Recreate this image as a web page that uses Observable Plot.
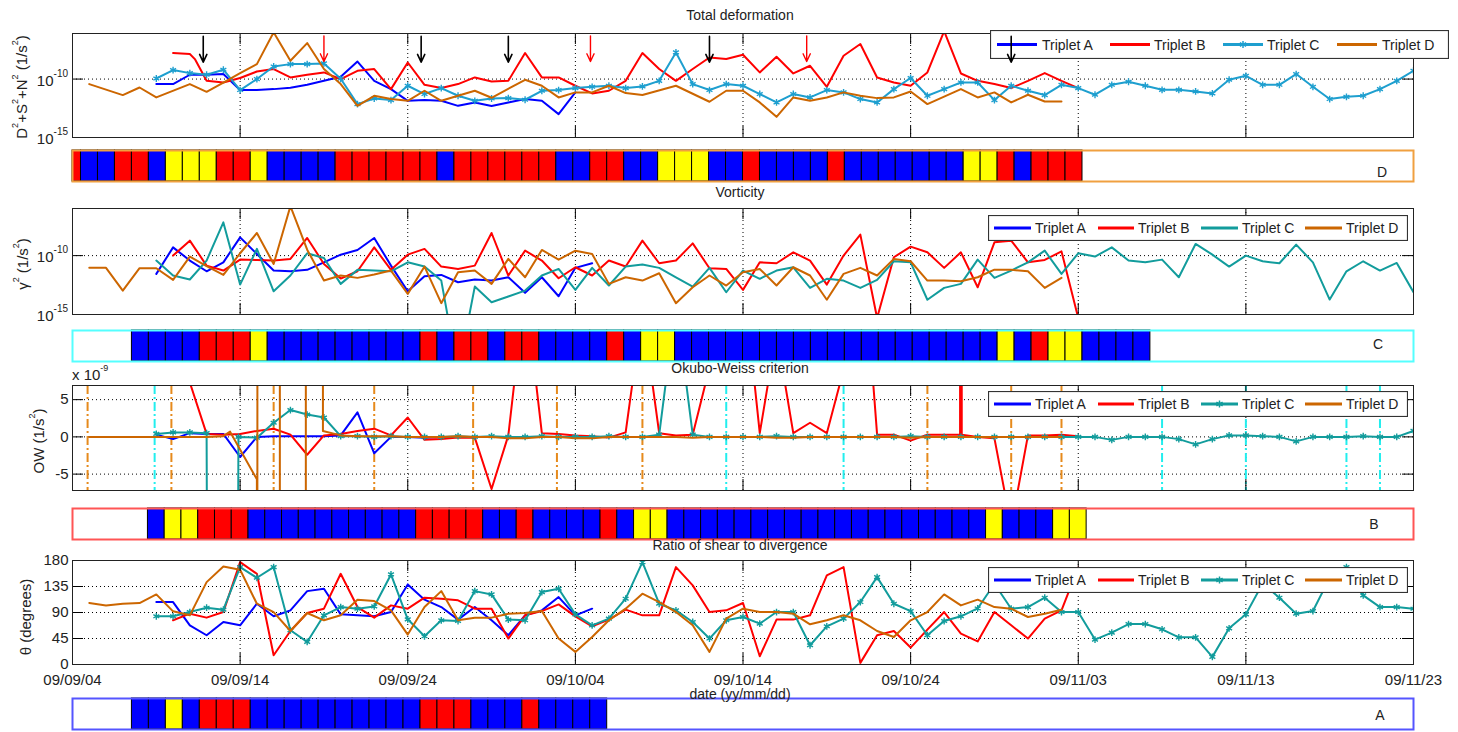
<!DOCTYPE html>
<html><head><meta charset="utf-8"><title>Triplets</title>
<script src="https://cdn.jsdelivr.net/npm/d3@7"></script>
<script src="https://cdn.jsdelivr.net/npm/@observablehq/plot@0.6"></script>
<style>
html,body{margin:0;padding:0;background:#fff;overflow:hidden}
#root{position:relative;width:1458px;height:732px;overflow:hidden;background:#fff;font-family:"Liberation Sans",Arial,Helvetica,sans-serif;color:#222}
.lbl{position:absolute;white-space:nowrap;font-size:14px;line-height:1;z-index:6}
.lbl sup{font-size:9px;vertical-align:top;position:relative;top:-3px}
.tk sup{font-size:10px;top:-4px}
</style></head><body><div id="root"></div><script>
// ---------------- axis ticks ----------------
const X_TICKS = [0,10,20,30,40,50,60,70,80];
const X_LABELS = ["09/09/04","09/09/14","09/09/24","09/10/04","09/10/14","09/10/24","09/11/03","09/11/13","09/11/23"];
const SERIES_NAMES = ["Triplet A","Triplet B","Triplet C","Triplet D"];

// ---------------- Total deformation (log10 of 1/s^2), [day, exponent] ----------------
const deformA = [[5,-10.43],[6,-10.43],[7,-9.63],[8,-9.63],[9,-9.57],[10,-10.94],[11,-10.94],[12,-10.86],[13,-10.74],[14,-10.49],[15,-10.15],[16,-9.8],[17,-8.5],[18,-10.15],[19,-10.86],[20,-11.86],[21,-11.8],[22,-11.86],[23,-12.29],[24,-12.0],[25,-12.31],[26,-12.0],[27,-11.71],[28,-11.86],[29,-13.0],[30,-11.14]];
const deformB = [[6,-7.77],[7,-7.86],[7.3,-8.29],[8,-10.15],[9,-10.29],[10,-9.91],[11,-9.35],[12,-9.14],[13,-9.86],[14,-9.63],[15,-9.43],[16,-10.0],[17,-9.29],[18,-9.14],[19,-10.86],[20,-8.58],[21,-10.49],[22,-10.77],[23,-10.43],[24,-9.86],[25,-10.2],[26,-10.15],[27,-7.77],[28,-9.86],[29,-9.86],[30,-10.57],[31,-11.23],[32,-11.0],[33,-10.15],[34,-7.77],[35,-9.14],[36,-10.15],[37,-9.14],[38,-8.15],[39,-8.29],[40,-7.92],[41,-9.43],[42,-8.09],[43,-9.52],[44,-8.86],[45,-10.66],[46,-8.0],[47,-7.0],[48,-9.86],[49,-10.29],[50,-10.57],[51,-9.43],[52,-5.9],[53,-9.52],[54,-10.15],[55,-10.43],[56,-10.77],[57,-10.15],[58,-9.49],[59,-10.15],[60,-10.77]];
const deformC = [[5,-9.95],[6,-9.23],[7,-9.49],[8,-9.63],[9,-9.2],[10,-10.94],[11,-10.0],[12,-8.92],[13,-8.72],[14,-8.72],[15,-8.66],[16,-9.97],[17,-12.14],[18,-11.66],[19,-11.8],[20,-10.57],[21,-11.28],[22,-10.77],[23,-11.43],[24,-11.86],[25,-11.66],[26,-11.63],[27,-11.77],[28,-11.0],[29,-10.94],[30,-10.77],[31,-10.66],[32,-10.57],[33,-10.77],[34,-10.63],[35,-10.15],[36,-7.72],[37,-10.43],[38,-10.94],[39,-10.43],[40,-10.57],[41,-11.28],[42,-12.0],[43,-11.28],[44,-11.57],[45,-10.94],[46,-11.14],[47,-11.71],[48,-12.0],[49,-10.86],[50,-9.91],[51,-11.43],[52,-10.86],[53,-10.29],[54,-10.29],[55,-11.8],[56,-10.57],[57,-11.0],[58,-11.37],[59,-10.49],[60,-10.77],[61,-11.34],[62,-10.49],[63,-10.23],[64,-10.57],[65,-10.92],[66,-10.92],[67,-11.06],[68,-11.23],[69,-10.06],[70,-9.72],[71,-10.49],[72,-10.49],[73,-9.57],[74,-10.66],[75,-11.71],[76,-11.52],[77,-11.43],[78,-10.86],[79,-10.15],[80,-9.29]];
const deformD = [[1,-10.43],[3,-11.37],[4,-10.72],[5,-11.57],[7,-10.43],[8,-11.09],[9,-10.3],[10,-9.5],[11,-8.72],[12,-6.0],[13,-8.43],[14,-6.92],[15,-9.14],[16,-10.43],[17,-12.29],[18,-11.43],[19,-11.71],[20,-11.86],[21,-11.0],[22,-11.86],[24,-11.0],[25,-11.6],[27,-10.06],[28,-10.57],[29,-11.57],[30,-11.14],[31,-11.14],[32,-10.57],[33,-11.2],[34,-11.37],[36,-10.57],[38,-11.94],[39,-11.0],[40,-11.0],[41,-12.0],[42,-13.23],[43,-11.57],[44,-11.86],[45,-11.57],[46,-11.14],[47,-11.43],[48,-11.63],[49,-11.57],[50,-11.06],[51,-12.14],[53,-10.86],[54,-11.57],[55,-11.14],[56,-12.0],[57,-11.34],[58,-11.92],[59,-11.92]];
const arrowBlackDays = [7.8, 20.8, 26.0, 38.0, 56.0];
const arrowRedDays = [15.0, 30.9, 43.8];

// ---------------- Vorticity (log10 of 1/s^2) ----------------
const vortA = [[5,-11.55],[6,-9.3],[7,-10.42],[8,-11.33],[9,-10.57],[10,-8.45],[11,-9.86],[12,-11.27],[13,-11.33],[14,-11.21],[15,-10.57],[16,-9.92],[17,-9.52],[18,-8.5],[19,-10.85],[20,-13.03],[21,-11.75],[22,-11.64],[23,-12.26],[24,-12.03],[25,-12.12],[26,-11.84],[27,-13.16],[28,-11.84],[29,-13.45],[30,-11.04],[31,-10.65]];
const vortB = [[6,-10.0],[7,-8.73],[8,-10.85],[9,-11.27],[10,-10.34],[11,-10.37],[12,-10.42],[13,-10.28],[14,-8.5],[15,-10.71],[16,-11.95],[17,-11.33],[18,-9.3],[19,-11.21],[20,-9.92],[21,-9.43],[22,-10.93],[23,-11.13],[24,-10.85],[25,-8.08],[26,-11.69],[27,-9.58],[28,-10.42],[29,-11.92],[30,-10.99],[31,-11.69],[32,-10.42],[33,-10.93],[34,-8.73],[35,-10.65],[36,-10.42],[37,-8.96],[38,-11.07],[39,-11.13],[40,-12.91],[41,-10.57],[42,-10.65],[43,-9.72],[44,-10.42],[45,-12.46],[46,-10.0],[47,-8.22],[48,-15.3],[49,-10.14],[50,-9.24],[51,-9.72],[52,-11.04],[53,-9.72],[54,-12.69],[55,-8.87],[56,-8.73],[57,-10.57],[58,-10.37],[59,-9.64],[60,-15.3]];
const vortC = [[5,-10.42],[6,-11.69],[7,-12.03],[8,-10.42],[9,-7.18],[10,-12.46],[11,-9.43],[12,-13.03],[13,-11.69],[14,-9.8],[15,-10.2],[16,-12.4],[17,-11.21],[18,-11.27],[19,-11.33],[20,-10.57],[21,-10.93],[22,-12.12],[23,-20],[24,-12.63],[25,-13.96],[26,-13.47],[27,-12.97],[28,-11.69],[29,-11.13],[30,-12.91],[31,-11.04],[32,-12.54],[33,-10.93],[34,-10.76],[35,-11.04],[36,-11.84],[37,-12.63],[38,-11.04],[39,-13.11],[40,-11.27],[41,-11.97],[42,-11.27],[43,-10.99],[44,-12.74],[45,-11.97],[46,-12.12],[47,-12.74],[48,-12.06],[49,-10.48],[50,-10.57],[51,-13.75],[52,-12.74],[53,-12.4],[54,-10.34],[55,-11.89],[56,-11.27],[57,-10.57],[58,-9.58],[59,-11.55],[60,-9.8],[61,-10.08],[62,-9.3],[63,-10.42],[64,-10.57],[65,-10.34],[66,-11.84],[67,-9.01],[68,-9.92],[69,-10.93],[70,-10.0],[71,-10.48],[72,-10.65],[73,-9.07],[74,-10.57],[75,-13.73],[76,-11.33],[77,-10.48],[78,-11.27],[79,-10.62],[80,-13.11]];
const vortD = [[1,-11.04],[2,-11.04],[3,-12.97],[4,-11.07],[5,-11.07],[6,-12.06],[7,-10.08],[8,-10.9],[9,-11.64],[10,-9.8],[11,-8.08],[12,-10.71],[13,-5.8],[14,-9.5],[15,-12.12],[16,-11.69],[17,-11.89],[18,-11.6],[19,-11.27],[20,-13.25],[21,-10.93],[22,-14.04],[23,-11.41],[24,-11.27],[25,-12.4],[26,-10.28],[27,-11.84],[28,-9.52],[29,-10.34],[30,-9.58],[31,-9.86],[32,-12.4],[33,-11.84],[34,-12.12],[35,-11.5],[36,-14.04],[37,-12.69],[38,-11.69],[39,-12.54],[40,-11.41],[41,-11.13],[42,-12.54],[43,-10.99],[44,-11.69],[45,-13.75],[46,-11.55],[47,-11.04],[48,-11.69],[49,-10.28],[50,-10.48],[51,-12.12],[52,-12.12],[53,-12.18],[54,-11.84],[55,-11.19],[56,-11.21],[57,-11.33],[58,-12.74],[59,-11.89]];

// ---------------- Okubo-Weiss (x 1e-9 1/s^2) ----------------
const owA = [[5,0.3],[6,-0.3],[7,0.5],[8,0.4],[9,0.4],[10,-2.7],[11,0.0],[12,0.1],[13,0.1],[14,0.1],[15,0.1],[16,0.2],[17,3.3],[18,-2.2],[19,0.0],[20,0.0],[21,-0.1],[22,0.0],[23,0.0],[24,0.0],[25,0.0],[26,0.0],[27,0.0],[28,0.0],[29,0.0],[30,0.0],[31,0.0]];
const owB = [[6,30],[7,7.3],[8,0.4],[9,0.3],[10,0.4],[11,0.8],[12,1.1],[13,0.3],[14,-2.4],[15,0.2],[16,0.4],[17,0.8],[18,1.1],[19,0.2],[20,2.6],[21,-0.4],[22,-0.3],[23,-0.1],[24,-0.1],[25,-7.0],[26,0.2],[27,20],[28,0.5],[29,0.4],[30,0.2],[31,0.1],[32,-0.1],[33,0.6],[34,17],[35,0.5],[36,0.2],[37,0.3],[38,9.3],[39,20],[40,22],[41,0.5],[42,14],[43,0.5],[44,1.9],[45,0.5],[46,9],[47,30],[48,0.3],[49,0.3],[50,-0.5],[51,0.3],[52,0.3],[52.95,0.3],[53,500],[53.05,0.3],[54,0],[55,-0.2],[56,-12],[57,0.2],[58,0.2],[59,0.3],[60,0.1]];
const owC = [[5,0.4],[6,0.6],[7,0.6],[8,0.5],[8.05,-30],[9.85,-30],[9.9,0.0],[11,-0.1],[12,1.9],[13,3.6],[14,3.0],[15,2.6],[16,0.1],[17,0.1],[18,0.0],[19,0.1],[20,0.0],[21,0.0],[22,0.0],[23,0.1],[24,0.0],[25,0.1],[26,0.0],[27,0.0],[28,0.1],[29,0.0],[30,0.0],[31,0.0],[32,0.1],[33,0.0],[34,0.0],[35,0.3],[36,18],[37,0.3],[38,0.0],[39,0.0],[40,0.0],[41,0.0],[42,0.1],[43,0.0],[44,0.0],[45,0.0],[46,0.0],[47,0.0],[48,0.0],[49,0.0],[50,0.1],[51,0.0],[52,0.0],[53,0.0],[54,0.0],[55,0.0],[56,0.0],[57,0.0],[58,0.0],[59,0.0],[60,0.0],[61,0.0],[62,-0.4],[63,0.0],[64,0.0],[65,0.0],[66,-0.3],[67,-1.0],[68,-0.3],[69,0.2],[70,0.2],[71,0.1],[72,0.0],[73,-0.6],[74,0.0],[75,0.0],[76,0.0],[77,0.1],[78,0.0],[79,0.0],[80,0.8]];
const owD = [[1,0],[2,0],[3,0],[4,0],[5,0],[6,0],[7,0],[8,0],[9,0.1],[9.4,0.7],[11,-5.7],[11.02,-1000],[11.04,1000],[12.36,1000],[12.38,-1000],[13.91,-1000],[13.93,1000],[14.92,1000],[14.94,0.8],[16,0.2],[17,0.1],[18,0.1],[19,0.1],[20,0.0],[21,0.0],[22,0.0],[23,0.1],[24,0.0],[25,0.0],[26,-0.2],[27,-0.2],[28,0.0],[29,0.0],[30,-0.2],[31,-0.2],[32,0.0],[33,0.0],[34,0.0],[35,0.0],[36,0.0],[37,-0.1],[38,0.0],[39,0.0],[40,0.0],[41,0.0],[42,-0.1],[43,-0.1],[44,0.0],[45,0.0],[46,0.0],[47,0.0],[48,0.0],[49,0.0],[50,-0.1],[51,0.0],[52,0.0],[53,0.0],[54,0.0],[55,0.0],[56,0.0],[57,0.0],[58,0.0],[59,0.0]];
const owOrangeRuleDays = [0.9, 5.9, 12.0, 18.0, 23.9, 28.9, 34.0, 51.0, 56.0, 59.0];
const owCyanRuleDays = [4.9, 39.0, 46.0, 65.0, 70.0, 76.0, 78.0];

// ---------------- Ratio of shear to divergence (degrees) ----------------
const thetaA = [[5,108.1],[6,108.1],[7,67.8],[8,50.6],[9,73.6],[10,67.8],[11,105.2],[12,83.4],[13,93.7],[14,127.0],[15,131.1],[16,86.8],[17,85.1],[18,83.4],[19,90.8],[20,138.6],[21,112.2],[22,99.4],[23,77.7],[24,99.4],[25,76.5],[26,50.6],[27,85.1],[28,93.7],[29,116.7],[30,85.1],[31,96.6]];
const thetaB = [[6,76.5],[7,88.0],[8,81.1],[9,90.8],[10,177.1],[11,157.0],[12,16.1],[13,58.0],[14,89.1],[15,96.6],[16,157.0],[17,99.4],[18,81.1],[19,102.3],[20,96.6],[21,115.6],[22,113.9],[23,111.0],[24,96.6],[25,96.6],[26,44.9],[27,85.1],[28,92.5],[29,104.0],[30,83.4],[31,66.1],[32,77.7],[33,94.9],[34,85.1],[35,85.1],[36,168.5],[37,136.9],[38,90.8],[39,93.7],[40,106.4],[41,14.3],[42,77.7],[43,77.7],[44,85.1],[45,154.1],[46,168.5],[47,2.8],[48,50.6],[49,58.0],[50,29.3],[51,60.4],[52,90.8],[53,53.5],[54,40.0],[55,90.8],[56,67.8],[57,44.9],[58,79.4],[59,93.7],[60,168]];
const thetaC = [[5,83.4],[6,83.4],[7,90.8],[8,98.3],[9,94.9],[10,168.5],[11,150.1],[12,168.5],[13,59.2],[14,39.1],[15,85.1],[16,99.4],[17,96.6],[18,100.5],[19,155.9],[20,78.2],[21,48.8],[22,76.5],[23,75.3],[24,127.0],[25,121.3],[26,77.7],[27,76.5],[28,125.3],[29,131.1],[30,86.8],[31,67.8],[32,79.4],[33,113.9],[34,177.1],[35,105.2],[36,93.7],[37,73.6],[38,44.9],[39,76.5],[40,82.2],[41,70.7],[42,90.8],[43,90.8],[44,33.3],[45,66.1],[46,79.4],[47,108.1],[48,151.2],[49,105.2],[50,92.5],[51,50.6],[52,75.3],[53,83.4],[54,97],[55,139.8],[56,96.6],[57,99.4],[58,115.6],[59,90.8],[60,90.8],[61,43.1],[62,55.1],[63,70.0],[64,70.0],[65,60.9],[66,47.0],[67,47.0],[68,13.2],[69,62.6],[70,86.8],[71,140],[72,115.6],[73,88.0],[74,92.5],[75,150],[76,168.5],[77,119.6],[78,99.4],[79,99.4],[80,96.6]];
const thetaD = [[1,106.4],[2,102.3],[3,105.2],[4,106.4],[5,121.3],[6,92.0],[7,85.1],[8,142.6],[9,169.7],[10,164],[11,105.2],[12,90.8],[13,58.0],[14,89.1],[15,76.5],[16,85.1],[17,112.2],[18,109.8],[19,93.7],[20,51.8],[21,99.4],[22,127.0],[23,76.5],[24,81.1],[25,81.1],[26,88.0],[27,89.1],[28,92.5],[29,44.9],[30,21.8],[31,47.6],[32,76.5],[33,96.6],[34,122.5],[35,108.1],[36,90.8],[37,67.8],[38,21.8],[39,79.4],[40,96.6],[41,90.8],[42,90.8],[43,88.0],[44,69.6],[45,76.5],[46,85.1],[47,76.5],[48,58.0],[49,47.6],[50,76.5],[51,90.8],[52,121.3],[53,102.3],[54,112.2],[55,99.4],[56,96.6],[57,82.2],[58,88.0],[59,94.9]];

// ---------------- daily classification strips (B=blue, R=red, Y=yellow, .=none) ----------------
const stripD = "RBBRRBYYYRRYBBBBRRRRRRBRRRRRRBBRRBBYYYBBRBBBBRBBBBBBBYYRBRRR";
const stripC = "....BBBBRRRYBBBBBBBBBRBRRBRRBBBBRBYYBBBBBBBBBBBBBBBBBBBYBRYYBBBB";
const stripB = ".....BYYRRRBBBBBBBBBBRRRRBBRBBBBRBYYBBBBBBBBBBBBBBBBBBBYBBBYY";
const stripA = "....BBYBRRRBBBBBBBBBBRRRBBBRBBBB";

// ---------------- styling ----------------
const COL = {A:"#0000ff", B:"#ff0000", C1:"#1e9fcf", C:"#129c9c", D:"#cc6600"};
const CELL = {B:"#0000ff", R:"#ff0000", Y:"#ffff00"};
const FONT = '"Liberation Sans", Arial, Helvetica, sans-serif';
const ML = 72, MR = 45, W = 1458, FW = W - ML - MR;
const root = document.getElementById("root");

function place(node, left, top, z) {
  node.style.position = "absolute"; node.style.left = left + "px"; node.style.top = top + "px";
  node.style.zIndex = z || 1; root.appendChild(node);
}
function label(html, x, y, opts = {}) {
  const d = document.createElement("div"); d.className = "lbl" + (opts.cls ? " " + opts.cls : ""); d.innerHTML = html;
  d.style.left = x + "px"; d.style.top = y + "px";
  const ax = opts.anchor === "start" ? "0" : opts.anchor === "end" ? "-100%" : "-50%";
  d.style.transform = `translate(${ax},-50%)` + (opts.rotate ? ` rotate(${opts.rotate}deg)` : "");
  if (opts.size) d.style.fontSize = opts.size + "px";
  root.appendChild(d);
}

function panel(cfg) {
  const mt = 2, mb = cfg.xlabels ? 34 : 2, h = cfg.h;
  const yv = cfg.log ? (d => 10 ** d[1]) : (d => d[1]);
  const marks = [
    Plot.ruleX(X_TICKS.slice(1, -1), {stroke: "#000", strokeWidth: 1, strokeDasharray: "1,3"}),
    Plot.ruleY(cfg.grid, {stroke: "#000", strokeWidth: 1, strokeDasharray: "1,3"}),
    ...(cfg.before || [])
  ];
  for (const s of cfg.series) {
    marks.push(Plot.line(s.data, {x: d => d[0], y: yv, stroke: s.color, strokeWidth: 2, clip: true}));
    if (s.marker) marks.push(Plot.dot(s.data, {x: d => d[0], y: yv, stroke: s.color, symbol: "asterisk", r: 3.2, strokeWidth: 1.4, clip: true}));
  }
  marks.push(
    Plot.ruleX(X_TICKS, {stroke: "#000", insetTop: h - 11}),
    Plot.ruleX(X_TICKS, {stroke: "#000", insetBottom: h - 11}),
    Plot.ruleY(cfg.yticks, {stroke: "#000", insetRight: FW - 11}),
    Plot.ruleY(cfg.yticks, {stroke: "#000", insetLeft: FW - 11}),
    Plot.frame({stroke: "#222", strokeWidth: 1})
  );
  const svg = Plot.plot({
    width: W, height: h + mt + mb, marginLeft: ML, marginRight: MR, marginTop: mt, marginBottom: mb,
    style: {fontFamily: FONT, fontSize: "15px", color: "#222", background: "transparent", overflow: "visible"},
    x: {domain: [0, 80], ticks: X_TICKS, tickFormat: d => X_LABELS[X_TICKS.indexOf(d)], tickSize: 0, tickPadding: 10,
        axis: cfg.xlabels ? "bottom" : null, label: null},
    y: {type: cfg.log ? "log" : "linear", domain: cfg.domain, ticks: cfg.yticks, tickFormat: cfg.tickFormat,
        tickSize: 0, tickPadding: 4, label: null, axis: cfg.log ? null : "left"},
    marks
  });
  place(svg, 0, cfg.top - mt, 1);
  if (cfg.log) {
    // power-of-ten tick labels with real superscripts, positioned with the plot's own y scale
    const s = svg.scale("y");
    const ys = d3.scaleLog().domain(s.domain).range(s.range);
    for (const t of cfg.yticks) {
      const e = Math.round(Math.log10(t));
      label(`10<sup>${e}</sup>`, 68, cfg.top - mt + ys(t) + 1, {anchor: "end", size: 15, cls: "tk"});
    }
  }
  return svg;
}

function strip(code, maxDomain, top, border) {
  const cells = code.split("").map((c, k) => ({k, c})).filter(d => d.c !== ".");
  const svg = Plot.plot({
    width: W, height: 31 + 2, marginLeft: ML, marginRight: MR, marginTop: 1, marginBottom: 1,
    style: {background: "transparent", overflow: "visible"},
    x: {domain: [0, maxDomain], axis: null}, y: {domain: [0, 1], axis: null},
    marks: [
      Plot.rect(cells, {x1: d => Math.max(0, d.k - 0.5), x2: d => d.k + 0.5, y1: 0, y2: 1,
        fill: d => CELL[d.c], stroke: "#000", strokeWidth: 1, inset: 0}),
      Plot.frame({stroke: border, strokeWidth: 2})
    ]
  });
  place(svg, 0, top - 1, 2);
}

function legend(box, entries, withMarker) {
  const svg = d3.create("svg").attr("width", box.w).attr("height", box.h);
  svg.append("rect").attr("x", 0.5).attr("y", 0.5).attr("width", box.w - 1).attr("height", box.h - 1)
    .attr("fill", "#fff").attr("stroke", "#333").attr("stroke-width", 1.2);
  const yc = box.h / 2;
  entries.forEach((e, i) => {
    svg.append("line").attr("x1", e.x1 - box.left).attr("x2", e.x2 - box.left).attr("y1", yc).attr("y2", yc)
      .attr("stroke", e.color).attr("stroke-width", 3);
    if (withMarker && i === 2) {
      svg.append("path").attr("d", d3.symbol(d3.symbolAsterisk, 36)())
        .attr("transform", `translate(${(e.x1 + e.x2) / 2 - box.left},${yc})`)
        .attr("stroke", e.color).attr("stroke-width", 1.5).attr("fill", "none");
    }
    svg.append("text").attr("x", e.tx - box.left).attr("y", yc).attr("dy", "0.36em")
      .attr("font-family", FONT).attr("font-size", 14).attr("fill", "#222").text(SERIES_NAMES[i]);
  });
  place(svg.node(), box.left, box.top, 4);
}

// ---------- Panel 1: total deformation ----------
panel({top: 33, h: 104, log: true, domain: [1e-15, 10 ** -6.1], yticks: [1e-15, 1e-10], grid: [1e-10],
  series: [{data: deformA, color: COL.A}, {data: deformB, color: COL.B}, {data: deformC, color: COL.C1, marker: true}, {data: deformD, color: COL.D}]});
// arrows drawn over the legend
{
  const mt = 2, h = 104;
  const svg = Plot.plot({
    width: W, height: h + 4, marginLeft: ML, marginRight: MR, marginTop: mt, marginBottom: 2,
    style: {background: "transparent", overflow: "visible"},
    x: {domain: [0, 80], axis: null}, y: {type: "log", domain: [1e-15, 10 ** -6.1], axis: null},
    marks: [
      Plot.arrow(arrowBlackDays, {x1: d => d, x2: d => d, y1: 10 ** -6.35, y2: 10 ** -8.55, stroke: "#000", strokeWidth: 1.6, headLength: 10, headAngle: 50}),
      Plot.arrow(arrowRedDays, {x1: d => d, x2: d => d, y1: 10 ** -6.3, y2: 10 ** -8.5, stroke: "#ff0000", strokeWidth: 1.4, headLength: 10, headAngle: 50})
    ]
  });
  place(svg, 0, 33 - mt, 5);
}
strip(stripD, 79, 150, "#f0a040");

// ---------- Panel 2: vorticity ----------
panel({top: 208, h: 106, log: true, domain: [1e-15, 1e-6], yticks: [1e-15, 1e-10], grid: [1e-10],
  series: [{data: vortA, color: COL.A}, {data: vortB, color: COL.B}, {data: vortC, color: COL.C}, {data: vortD, color: COL.D}]});
strip(stripC, 79, 330, "#55ffff");

// ---------- Panel 3: Okubo-Weiss ----------
panel({top: 385, h: 105, log: false, domain: [-7.2, 6.9], yticks: [-5, 0, 5], grid: [-5, 0, 5], tickFormat: d => String(d),
  before: [
    Plot.ruleX(owOrangeRuleDays, {stroke: "#e68a1c", strokeWidth: 2, strokeDasharray: "9,3,2,3"}),
    Plot.ruleX(owCyanRuleDays, {stroke: "#22eeee", strokeWidth: 2, strokeDasharray: "9,3,2,3"})
  ],
  series: [{data: owA, color: COL.A}, {data: owB, color: COL.B}, {data: owC, color: COL.C, marker: true}, {data: owD, color: COL.D}]});
strip(stripB, 80, 508, "#ff5555");

// ---------- Panel 4: ratio of shear to divergence ----------
panel({top: 560, h: 104, log: false, domain: [0, 180], yticks: [0, 45, 90, 135, 180], grid: [45, 90, 135], tickFormat: d => String(d), xlabels: true,
  series: [{data: thetaA, color: COL.A}, {data: thetaB, color: COL.B}, {data: thetaC, color: COL.C, marker: true}, {data: thetaD, color: COL.D}]});
strip(stripA, 79, 698, "#5555ff");

// ---------- legends ----------
legend({left: 990, top: 30, w: 459, h: 29}, [
  {x1: 997, x2: 1037, tx: 1042, color: COL.A}, {x1: 1110, x2: 1150, tx: 1154, color: COL.B},
  {x1: 1223, x2: 1263, tx: 1267, color: COL.C1}, {x1: 1337, x2: 1377, tx: 1382, color: COL.D}], true);
const legEntries = [
  {x1: 994, x2: 1031, tx: 1035, color: COL.A}, {x1: 1098, x2: 1134, tx: 1138, color: COL.B},
  {x1: 1201, x2: 1238, tx: 1242, color: COL.C}, {x1: 1305, x2: 1342, tx: 1346, color: COL.D}];
legend({left: 988, top: 215, w: 420, h: 26}, legEntries, false);
legend({left: 988, top: 391, w: 420, h: 26}, legEntries, true);
legend({left: 988, top: 567, w: 420, h: 26}, legEntries, true);

// ---------- titles and labels ----------
label("Total deformation", 740, 15);
label("Vorticity", 740, 192);
label("Okubo-Weiss criterion", 740, 368);
label("Ratio of shear to divergence", 740, 545);
label("D<sup>2</sup>+S<sup>2</sup>+N<sup>2</sup> (1/s<sup>2</sup>)", 21, 87, {rotate: -90, size: 15});
label("\u03B3<sup>2</sup> (1/s<sup>2</sup>)", 22, 264, {rotate: -90, size: 15});
label("OW (1/s<sup>2</sup>)", 38, 441, {rotate: -90, size: 15});
label("\u03B8 (degrees)", 25, 617, {rotate: -90, size: 15});
label("x 10<sup>-9</sup>", 72, 374, {anchor: "start", size: 15});
label("date (yy/mm/dd)", 740, 694);
label("D", 1382, 172); label("C", 1378, 344); label("B", 1374, 524); label("A", 1380, 715);
</script></body></html>
